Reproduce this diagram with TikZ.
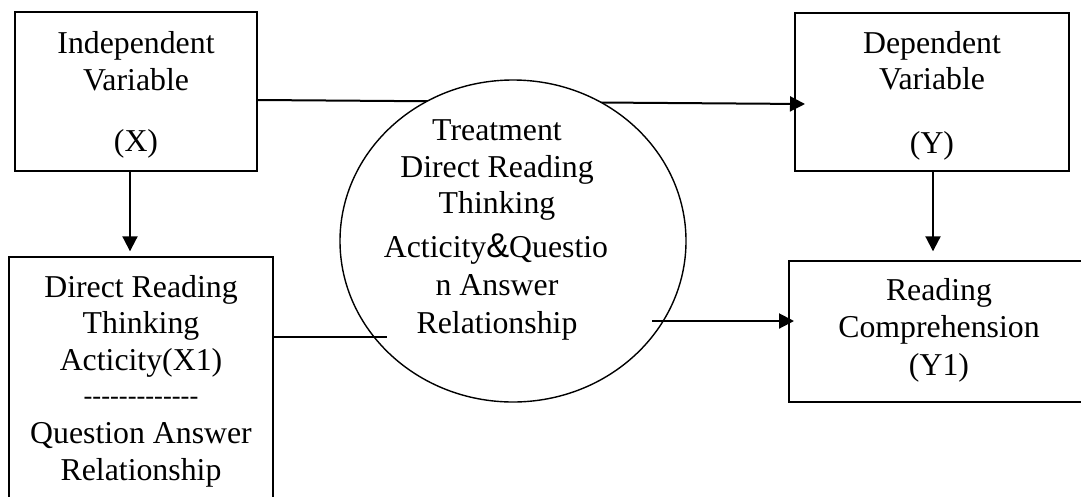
\documentclass[tikz,border=0pt]{standalone}
\usepackage{fontspec}
\setmainfont{Liberation Serif}
\newfontfamily\ampfont[Scale=1.08]{Liberation Sans}
\usetikzlibrary{arrows.meta,shapes.geometric,calc}
\def\hy{\mbox{-}}
\begin{document}
\begin{tikzpicture}[x=1pt,y=-1pt,
  thickbox/.style={draw, line width=2.2pt, rectangle, inner sep=0},
  thinbox/.style={draw, line width=1.4pt, rectangle, inner sep=0},
  txt/.style={anchor=base, inner sep=0, font=\fontsize{31.8}{37}\selectfont},
  conn/.style={line width=2pt},
  arr/.style={conn, -{Triangle[length=15pt,width=15pt]}}]
\useasboundingbox (0,0) rectangle (1081,496);
\clip (0,0) rectangle (1081,496);
% boxes
\node[thickbox, minimum width=242, minimum height=159] (X) at (136,91.5) {};
\node[thickbox, minimum width=274, minimum height=158] (Y) at (932,92) {};
\node[thinbox, minimum width=264, minimum height=263] (X1) at (141,388.5) {};
\node[thinbox, minimum width=300, minimum height=141] (Y1) at (939,331.5) {};
% top connector (passes behind the circle)
\coordinate (topend) at (805,104);
\draw[arr] ($(X.east)+(0,8.5)$) -- (topend);
% circle
\node[draw, ellipse, line width=1.4pt, fill=white, minimum width=346, minimum height=322, inner sep=0] (T) at (513,241) {};
% connectors
\draw[arr] ($(X.south)+(-6,0)$) -- ($(X1.north)+(-11,-5)$);
\draw[arr] ($(Y.south)+(1,0)$) -- ($(Y1.north)+(-6,-9)$);
\coordinate (lowend) at (387,337);
\draw[conn] (X1.east |- lowend) -- (lowend);
\coordinate (rstart) at (652,321);
\coordinate (rend) at (794,321);
\draw[arr] (rstart) -- (rend);
% texts
\node[txt] (x1) at (136,53) {Independent};
\node[txt] (x2) at (136,90) {Variable};
\node[txt] (x3) at (136,151) {(X)};
\node[txt] (y1) at (932,53) {Dependent};
\node[txt] (y2) at (932,89) {Variable};
\node[txt] (y3) at (932,153) {(Y)};
\node[txt] (a1) at (141,297) {Direct Reading};
\node[txt] (a2) at (141,333) {Thinking};
\node[txt] (a3) at (141,370) {Acticity(X1)};
\node[anchor=base, inner sep=0, font=\fontsize{26.5}{30}\selectfont] (a4) at (141,404) {\hy\hy\hy\hy\hy\hy\hy\hy\hy\hy\hy\hy\hy};
\node[txt] (a5) at (141,443) {Question Answer};
\node[txt] (a6) at (141,480) {Relationship};
\node[txt] (t1) at (497,140) {Treatment};
\node[txt] (t2) at (497,177) {Direct Reading};
\node[txt] (t3) at (497,213) {Thinking};
\node[txt] (t4) at (496,257) {Acticity{\ampfont\&}Questio};
\node[txt] (t5) at (497,295) {n Answer};
\node[txt] (t6) at (497,333) {Relationship};
\node[txt] (b1) at (939,300) {Reading};
\node[txt] (b2) at (939,337) {Comprehension};
\node[txt] (b3) at (939,375) {(Y1)};
\end{tikzpicture}
\end{document}
